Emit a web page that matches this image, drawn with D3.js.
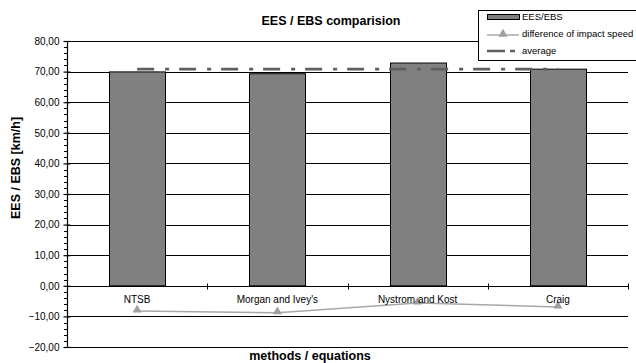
<!DOCTYPE html>
<html><head><meta charset="utf-8">
<script src="https://cdn.jsdelivr.net/npm/d3@7"></script>
<style>body{margin:0;background:#fff}svg{display:block;font-family:"Liberation Sans",Arial,sans-serif}</style>
</head><body><svg id="c" width="636" height="363"></svg>
<script>
const categories = ["NTSB", "Morgan and Ivey's", "Nystrom and Kost", "Craig"];
const eesValues = [69.9, 69.3, 72.8, 70.8];
const diffValues = [-8.2, -8.8, -5.6, -6.9];
const averageValue = 70.8;
const yTicks = [-20, -10, 0, 10, 20, 30, 40, 50, 60, 70, 80];
const legendLabels = ["EES/EBS", "difference of impact speed", "average"];

const svg = d3.select("#c");
const L = 67, R = 628, T = 41, B = 347;
const x = d3.scaleBand().domain(categories).range([L, R]).paddingInner(0.6).paddingOuter(0.3);
const y = d3.scaleLinear().domain([-20, 80]).range([B, T]);
const cx = c => x(c) + x.bandwidth() / 2;
const fmt = v => d3.format(".2f")(v).replace(".", ",");
const FF = "Liberation Sans, Arial, sans-serif";

// gridlines
svg.append("g").selectAll("line").data(yTicks).join("line")
  .attr("x1", L).attr("x2", R).attr("y1", d => Math.round(y(d)) + 0.5).attr("y2", d => Math.round(y(d)) + 0.5)
  .attr("stroke", "#000").attr("stroke-width", 1);

// bars
svg.append("g").selectAll("rect").data(categories).join("rect")
  .attr("x", d => Math.round(x(d)) + 0.5).attr("width", Math.round(x.bandwidth()))
  .attr("y", (d, i) => y(eesValues[i])).attr("height", (d, i) => y(0) - y(eesValues[i]))
  .attr("fill", "#808080").attr("stroke", "#000").attr("stroke-width", 1);

// average line
svg.append("line")
  .attr("x1", cx(categories[0])).attr("x2", cx(categories[categories.length - 1]))
  .attr("y1", y(averageValue)).attr("y2", y(averageValue))
  .attr("stroke", "#5f5f5f").attr("stroke-width", 2.6).attr("stroke-dasharray", "17,11,4,10");

// difference line
const line = d3.line().x((d, i) => cx(categories[i])).y(d => y(d));
svg.append("path").datum(diffValues).attr("d", line).attr("fill", "none").attr("stroke", "#a8a8a8").attr("stroke-width", 1.5);
const tri = d3.symbol().type(d3.symbolTriangle).size(36);
svg.append("g").selectAll("path").data(diffValues).join("path")
  .attr("d", tri).attr("transform", (d, i) => `translate(${cx(categories[i])},${y(d) - 1})`)
  .attr("fill", "#a0a0a0");

// y axis
const yAxis = d3.axisLeft(y).tickValues(yTicks).tickFormat(fmt).tickSize(4).tickSizeOuter(0);
const gy = svg.append("g").attr("transform", `translate(${L + 0.5},0)`).call(yAxis);
gy.attr("font-family", FF);
gy.select(".domain").attr("stroke", "#000").attr("stroke-width", 1.2).attr("d", `M0,${y(80)}V${y(-20)}`);
gy.selectAll(".tick line").attr("x2", -4).attr("x1", 3).attr("stroke-width", 1.2);
gy.selectAll(".tick text").attr("font-size", 10).attr("fill", "#000").attr("x", -8);
// minor ticks
const minor = d3.range(-20, 80.01, 2).filter(v => v % 10 !== 0);
svg.append("g").selectAll("line").data(minor).join("line")
  .attr("x1", L - 3).attr("x2", L).attr("y1", d => Math.round(y(d)) + 0.5).attr("y2", d => Math.round(y(d)) + 0.5)
  .attr("stroke", "#000").attr("stroke-width", 1);

// x axis at zero
const y0 = Math.round(y(0)) + 0.5;
svg.append("line").attr("x1", L).attr("x2", R).attr("y1", y0).attr("y2", y0).attr("stroke", "#000").attr("stroke-width", 1.2);
const bounds = d3.range(categories.length + 1).map(i => L + i * x.step());
svg.append("g").selectAll("line").data(bounds).join("line")
  .attr("x1", d => Math.round(d) + 0.5).attr("x2", d => Math.round(d) + 0.5)
  .attr("y1", y0 - 3).attr("y2", y0 + 3).attr("stroke", "#000").attr("stroke-width", 1);
svg.append("g").selectAll("text").data(categories).join("text")
  .attr("x", d => cx(d)).attr("y", y0 + 16).attr("text-anchor", "middle")
  .attr("font-size", 10).text(d => d);

// titles
svg.append("text").attr("x", 331).attr("y", 25).attr("text-anchor", "middle").attr("font-size", 12.5).attr("font-weight", "bold").text("EES / EBS comparision");
svg.append("text").attr("x", 310).attr("y", 360).attr("text-anchor", "middle").attr("font-size", 12.5).attr("font-weight", "bold").text("methods / equations");
svg.append("text").attr("transform", "translate(20,168) rotate(-90)").attr("text-anchor", "middle").attr("font-size", 12.5).attr("font-weight", "bold").text("EES / EBS [km/h]");

// legend
const lg = svg.append("g");
lg.append("rect").attr("x", 478.5).attr("y", 10.5).attr("width", 170).attr("height", 50).attr("fill", "#fff").attr("stroke", "#000").attr("stroke-width", 1);
lg.append("rect").attr("x", 487.5).attr("y", 14.5).attr("width", 32).attr("height", 5).attr("fill", "#808080").attr("stroke", "#000").attr("stroke-width", 1);
lg.append("line").attr("x1", 487).attr("x2", 519).attr("y1", 35).attr("y2", 35).attr("stroke", "#a8a8a8").attr("stroke-width", 1.5);
lg.append("path").attr("d", tri).attr("transform", "translate(503,34)").attr("fill", "#a0a0a0");
lg.append("line").attr("x1", 487).attr("x2", 519).attr("y1", 51).attr("y2", 51).attr("stroke", "#5f5f5f").attr("stroke-width", 2.6).attr("stroke-dasharray", "18,5,5,10");
lg.selectAll("text.l").data(legendLabels).join("text").attr("class", "l")
  .attr("x", 522).attr("y", (d, i) => 20 + i * 17).attr("font-size", 9.5).text(d => d);
</script></body></html>
